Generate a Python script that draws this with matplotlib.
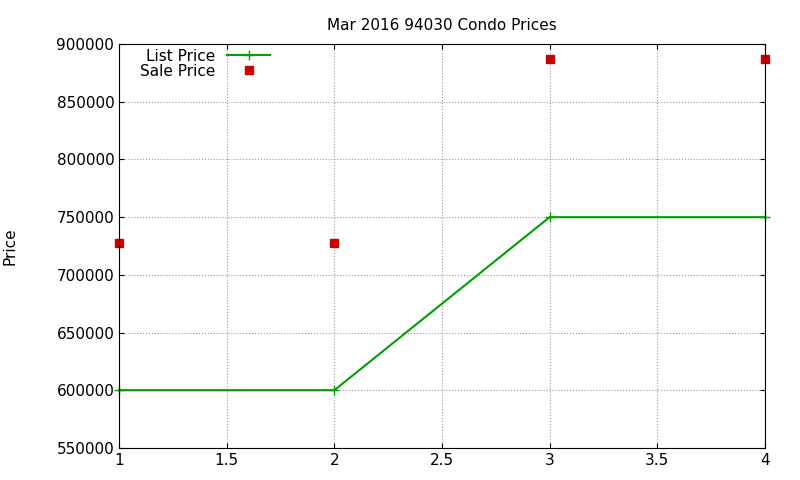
import matplotlib
matplotlib.use('Agg')
import matplotlib.pyplot as plt

x = [1, 2, 3, 4]
list_price = [600000, 600000, 750000, 750000]
sale_price = [727500, 727500, 887500, 887500]

fig = plt.figure(figsize=(8, 4.8), dpi=100)
ax = fig.add_axes([0.149, 0.067, 0.807, 0.841])
ax.plot(x, list_price, color='#00a000', lw=1.5, marker='+', ms=7, label='List Price', clip_on=False)
ax.plot(x, sale_price, ls='none', color='#cc0000', marker='s', ms=6, label='Sale Price', clip_on=False)
ax.set_xlim(1, 4)
ax.set_ylim(550000, 900000)
ax.set_xticks([1, 1.5, 2, 2.5, 3, 3.5, 4])
ax.set_xticklabels(['1', '1.5', '2', '2.5', '3', '3.5', '4'])
ax.set_yticks(range(550000, 900001, 50000))
ax.ticklabel_format(axis='y', style='plain', useOffset=False)
ax.grid(True, color='#999999', ls=':', lw=0.8)
ax.tick_params(direction='in', labelsize=11, top=True, right=True)
ax.set_title('Mar 2016 94030 Condo Prices', fontsize=11, pad=10)
ax.set_ylabel('Price', fontsize=11, labelpad=28)
ax.legend(loc='upper left', bbox_to_anchor=(0.015, 1.015), frameon=False, markerfirst=False,
          fontsize=11, handlelength=2.8, borderpad=0.2, labelspacing=0.0)
fig.savefig('out.png', dpi=100)
